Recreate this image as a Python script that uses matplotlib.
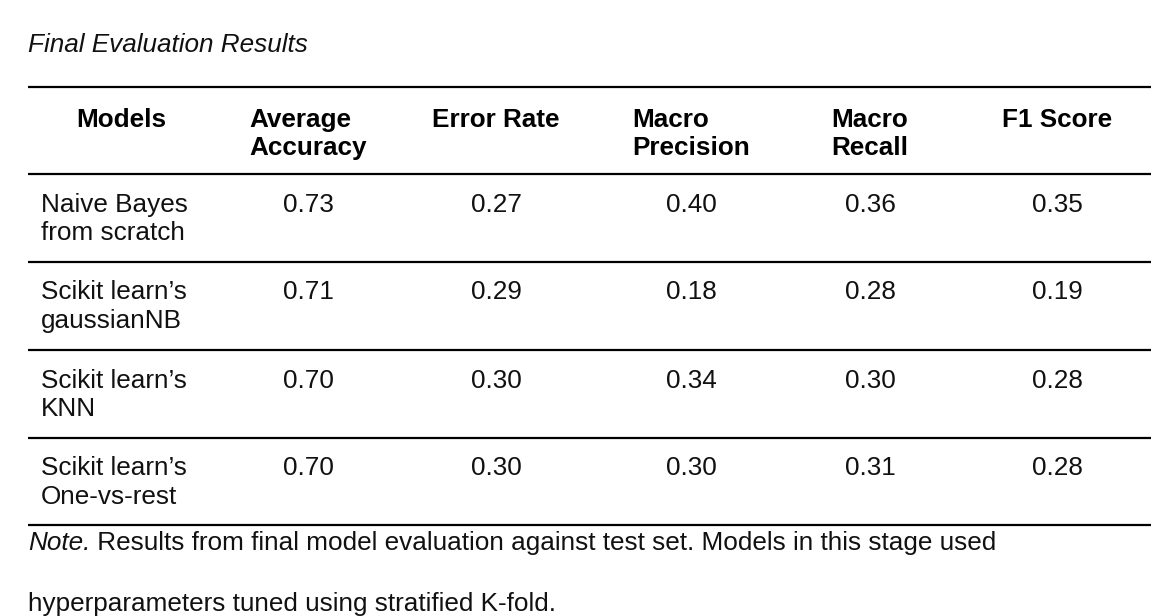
import matplotlib
matplotlib.use("Agg")
import matplotlib.pyplot as plt

# ---------------- data ----------------
title = "Final Evaluation Results"
headers = ["Models", "Average\nAccuracy", "Error Rate", "Macro\nPrecision", "Macro\nRecall", "F1 Score"]
models = ["Naive Bayes\nfrom scratch", "Scikit learn’s\ngaussianNB", "Scikit learn’s\nKNN", "Scikit learn’s\nOne-vs-rest"]
avg_accuracy = [0.73, 0.71, 0.70, 0.70]
error_rate = [0.27, 0.29, 0.30, 0.30]
macro_precision = [0.40, 0.18, 0.34, 0.30]
macro_recall = [0.36, 0.28, 0.30, 0.31]
f1_score = [0.35, 0.19, 0.28, 0.28]
note_label = "Note."
note_line1 = " Results from final model evaluation against test set. Models in this stage used"
note_line2 = "hyperparameters tuned using stratified K-fold."

# ---------------- layout ----------------
W, H = 1174, 616
FS = 18.8
STEP = 28.7
FONT = ["Liberation Sans", "DejaVu Sans"]
x0, x1 = 28, 1151
rule_y = [87, 174, 261.5, 350, 437.5, 525]
col_centers = [121, 308, 496, 691, 870, 1057]
name_x = 41
header_base = 126.7
row_offset = 37.6
TXT = "#111111"

plt.rcParams["font.family"] = FONT

fig = plt.figure(figsize=(W / 100, H / 100), dpi=100)
ax = fig.add_axes([0, 0, 1, 1])
ax.set_xlim(0, W)
ax.set_ylim(H, 0)
ax.axis("off")
renderer = fig.canvas.get_renderer()


def block(x, y_base, text, weight="normal", style="normal", center=True, color=TXT):
    lines = text.split("\n")
    objs = [ax.text(x, y_base + i * STEP, ln, fontsize=FS, fontweight=weight,
                    fontstyle=style, ha="left", va="baseline", color=color)
            for i, ln in enumerate(lines)]
    if center:
        widths = [o.get_window_extent(renderer).width for o in objs]
        left = x - max(widths) / 2
        for o in objs:
            o.set_x(left)
    return objs


# title
ax.text(28, 51.7, title, fontsize=FS, fontstyle="italic", ha="left", va="baseline", color=TXT)

# rules
ax.hlines(rule_y, x0, x1, color="black", lw=1.6)

# header
for cx, h in zip(col_centers, headers):
    block(cx, header_base, h, weight="bold", color="black")

# body
columns = [avg_accuracy, error_rate, macro_precision, macro_recall, f1_score]
for r, name in enumerate(models):
    base = rule_y[r + 1] + row_offset
    block(name_x, base, name, center=False)
    for c, col in enumerate(columns):
        ax.text(col_centers[c + 1], base, f"{col[r]:.2f}", fontsize=FS, ha="center",
                va="baseline", color=TXT)

# note
t = ax.text(28, 550, note_label, fontsize=FS, fontstyle="italic", ha="left", va="baseline", color=TXT)
ext = t.get_window_extent(renderer)
ax.text(ext.x1, 550, note_line1, fontsize=FS, ha="left", va="baseline", color=TXT)
ax.text(28, 611, note_line2, fontsize=FS, ha="left", va="baseline", color=TXT)

fig.savefig("out.png", dpi=100, facecolor="white")
